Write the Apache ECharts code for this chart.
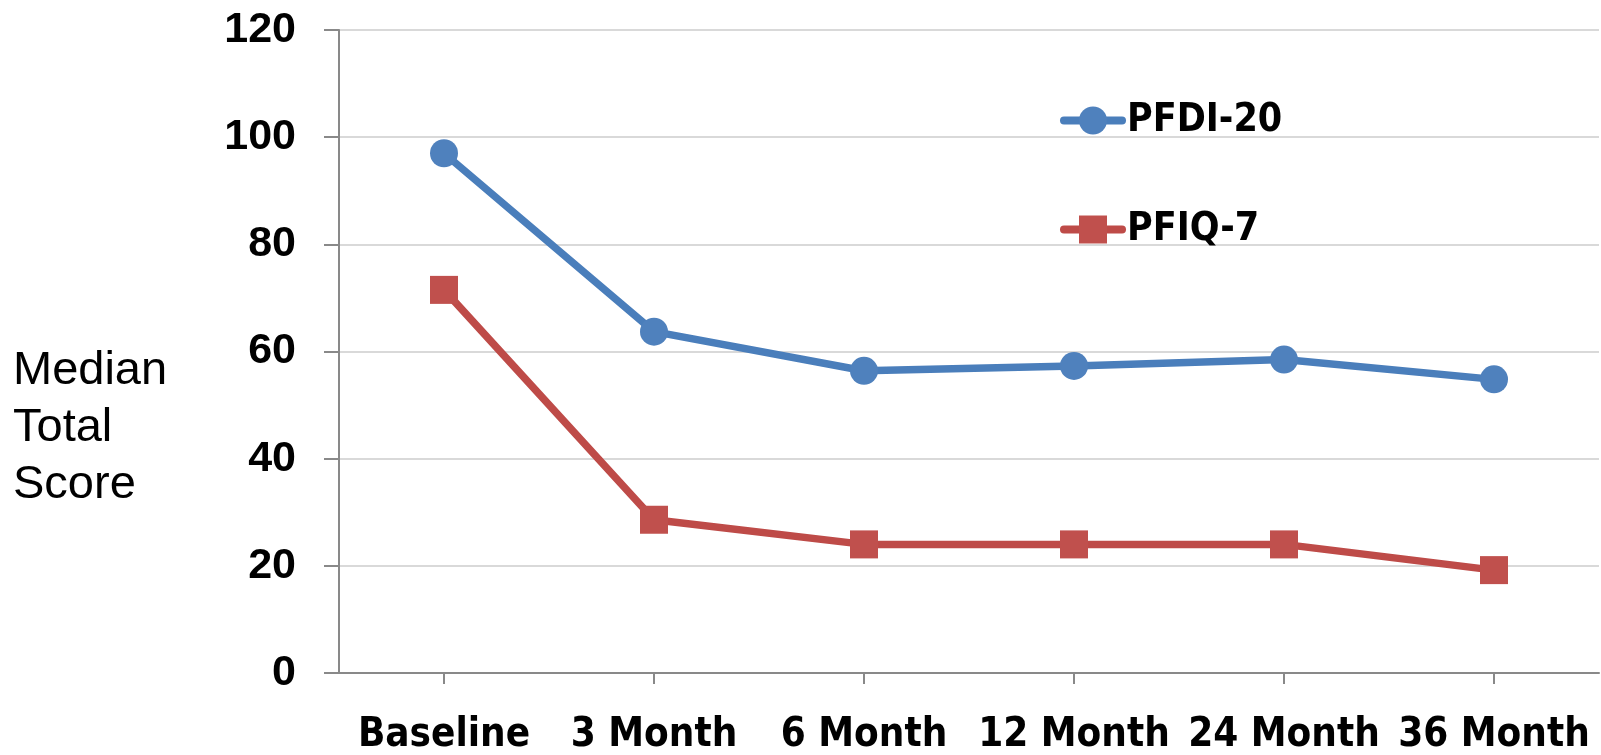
<!DOCTYPE html>
<html>
<head>
<meta charset="utf-8">
<script src="https://cdn.jsdelivr.net/npm/echarts@6/dist/echarts.min.js"></script>
<style>
  html, body { margin: 0; padding: 0; background: #ffffff; }
  #chart { width: 1601px; height: 755px; }
</style>
</head>
<body>
<div id="chart"></div>
<script>
// Visit time points
const categories = ['Baseline', '3 Month', '6 Month', '12 Month', '24 Month', '36 Month'];
// Median total scores per questionnaire
const pfdi20 = [97.0, 63.7, 56.4, 57.3, 58.5, 54.8];
const pfiq7 = [71.5, 28.6, 24.0, 24.0, 24.0, 19.2];
// Value axis range
const yMin = 0;
const yMax = 120;
const yStep = 20;

const narrow = '"DejaVu Sans Condensed", "Liberation Sans Narrow", "Liberation Sans", sans-serif';
const axisGray = '#898989';

const chart = echarts.init(document.getElementById('chart'), null, { renderer: 'canvas' });

chart.setOption({
  animation: false,
  backgroundColor: '#ffffff',
  grid: {
    left: 339,
    right: 2,
    top: 30,
    bottom: 82,
    containLabel: false,
    outerBoundsMode: 'none'
  },
  graphic: [{
    type: 'text',
    left: 13,
    top: 343,
    style: {
      text: 'Median\nTotal\nScore',
      font: '47px "Liberation Sans", Arial, sans-serif',
      lineHeight: 57,
      fill: '#000000',
      align: 'left'
    }
  }],
  legend: {
    orient: 'vertical',
    left: 1060,
    top: 101,
    padding: 0,
    itemWidth: 58,
    itemHeight: 35,
    itemGap: 70,
    selectedMode: false,
    lineStyle: { width: 8, cap: 'round' },
    textStyle: {
      fontFamily: narrow,
      fontWeight: 'bold',
      fontSize: 39,
      lineHeight: 35,
      color: '#000000'
    },
    data: ['PFDI-20', 'PFIQ-7']
  },
  xAxis: {
    type: 'category',
    data: categories,
    boundaryGap: true,
    axisLine: { show: true, lineStyle: { color: axisGray, width: 2 } },
    axisTick: { show: true, alignWithLabel: true, length: 11, lineStyle: { color: axisGray, width: 2 } },
    axisLabel: {
      interval: 0,
      margin: 43,
      fontFamily: narrow,
      fontWeight: 'bold',
      fontSize: 40,
      color: '#000000'
    },
    splitLine: { show: false }
  },
  yAxis: {
    type: 'value',
    min: yMin,
    max: yMax,
    interval: yStep,
    axisLine: { show: true, lineStyle: { color: axisGray, width: 2 } },
    axisTick: { show: true, inside: false, length: 15, lineStyle: { color: axisGray, width: 2 } },
    axisLabel: {
      margin: 43,
      fontFamily: '"Liberation Sans", Arial, sans-serif',
      fontWeight: 'bold',
      fontSize: 43,
      color: '#000000'
    },
    splitLine: { show: true, lineStyle: { color: '#d9d9d9', width: 2 } }
  },
  series: [
    {
      name: 'PFDI-20',
      type: 'line',
      data: pfdi20,
      symbol: 'circle',
      symbolSize: 28,
      color: '#4f81bd',
      lineStyle: { color: '#4a7ebb', width: 7.5 },
      itemStyle: { color: '#4f81bd' }
    },
    {
      name: 'PFIQ-7',
      type: 'line',
      data: pfiq7,
      symbol: 'rect',
      symbolSize: 28,
      color: '#c0504d',
      lineStyle: { color: '#be4b48', width: 7.5 },
      itemStyle: { color: '#c0504d' }
    }
  ]
});
</script>
</body>
</html>
